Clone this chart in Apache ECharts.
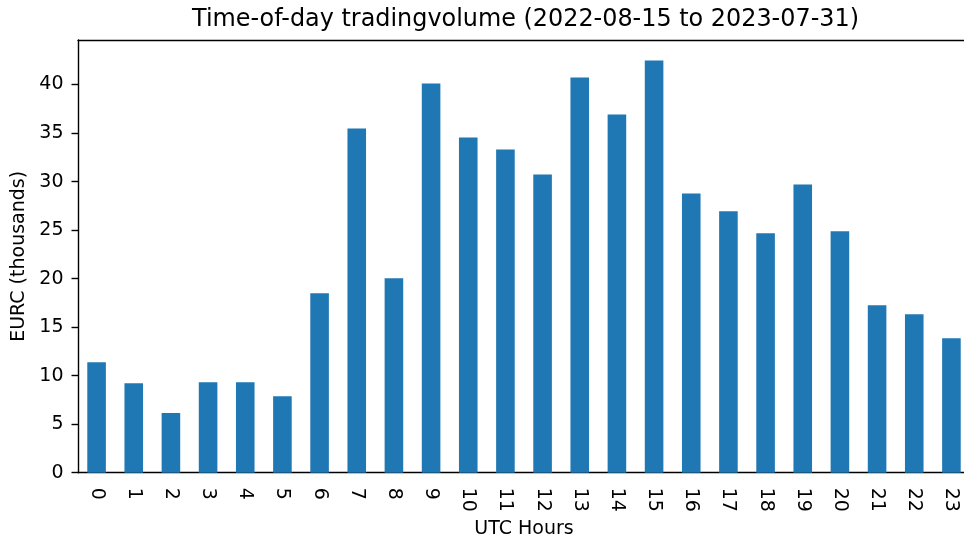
<!DOCTYPE html>
<html>
<head>
<meta charset="utf-8">
<script src="https://cdn.jsdelivr.net/npm/echarts@6/dist/echarts.min.js"></script>
<style>html,body{margin:0;padding:0;background:#fff;overflow:hidden}#c{width:964px;height:540px}</style>
</head>
<body>
<div id="c"></div>
<script>
var hours = ['0','1','2','3','4','5','6','7','8','9','10','11','12','13','14','15','16','17','18','19','20','21','22','23'];
var volume = [11.39, 9.23, 6.14, 9.33, 9.33, 7.89, 18.49, 35.47, 20.04, 40.10, 34.55, 33.31, 30.74, 40.72, 36.91, 42.47, 28.78, 26.93, 24.67, 29.71, 24.87, 17.26, 16.33, 13.86];
var yTicks = [0, 5, 10, 15, 20, 25, 30, 35, 40];

var font = 'DejaVu Sans';
var chart = echarts.init(document.getElementById('c'), null, {renderer: 'canvas'});
chart.setOption({
  animation: false,
  title: {
    text: 'Time-of-day tradingvolume (2022-08-15 to 2023-07-31)',
    left: 520.5, top: 3, textAlign: 'center',
    textStyle: {fontFamily: font, fontSize: 23.9, fontWeight: 'normal', color: '#000'}
  },
  grid: {left: 78, width: 892, top: 40, bottom: 67.3, outerBoundsMode: 'none', containLabel: false, show: false},
  xAxis: [{
    type: 'category', data: hours,
    name: 'UTC Hours', nameLocation: 'middle', nameGap: 45,
    nameTextStyle: {fontFamily: font, fontSize: 19, color: '#000'},
    axisLine: {lineStyle: {color: '#000', width: 1.4}},
    axisTick: {alignWithLabel: true, length: 6.5, lineStyle: {color: '#000', width: 1.4}},
    axisLabel: {rotate: -90, margin: 15, fontFamily: font, fontSize: 19, color: '#000', interval: 0}
  }, {
    type: 'category', data: hours, position: 'top',
    axisLine: {show: true, lineStyle: {color: '#000', width: 1.4}},
    axisTick: {show: false}, axisLabel: {show: false}, splitLine: {show: false}
  }],
  yAxis: {
    type: 'value', min: 0, max: 44.59, interval: 5,
    name: 'EURC (thousands)', nameLocation: 'middle', nameGap: 44.5, nameRotate: 90,
    nameTextStyle: {fontFamily: font, fontSize: 19, color: '#000'},
    splitLine: {show: false},
    axisLine: {show: true, lineStyle: {color: '#000', width: 1.4}},
    axisTick: {show: true, length: 6.5, lineStyle: {color: '#000', width: 1.4}},
    axisLabel: {margin: 14.5, fontFamily: font, fontSize: 19, color: '#000', showMaxLabel: false,
      formatter: function (v) { return yTicks.indexOf(v) >= 0 ? String(v) : ''; }}
  },
  series: [{
    type: 'bar', data: volume, barWidth: '50%', xAxisIndex: 0,
    itemStyle: {color: '#1f77b4'}
  }]
});
</script>
</body>
</html>
